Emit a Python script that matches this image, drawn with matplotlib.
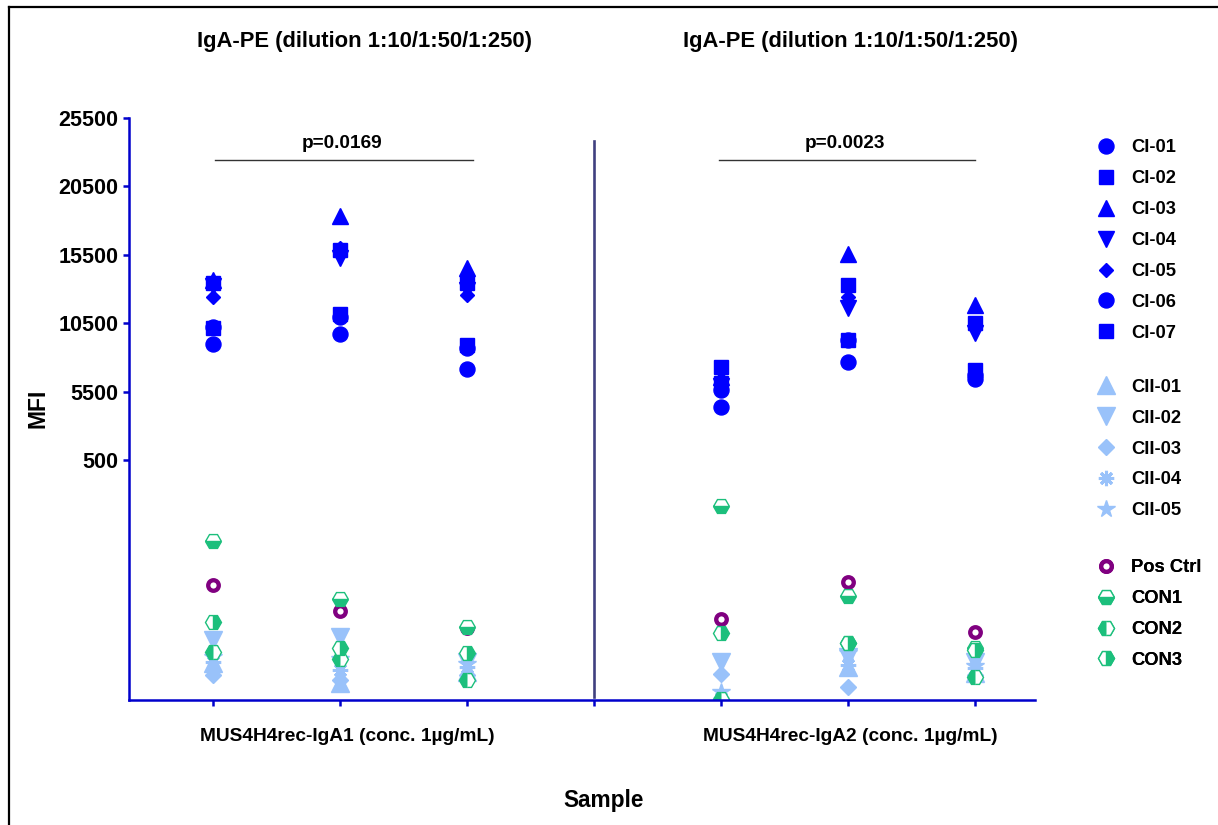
import numpy as np
import matplotlib
matplotlib.use("Agg")
import matplotlib.pyplot as plt
from matplotlib.lines import Line2D

plt.rcParams["font.family"] = ["Liberation Sans", "DejaVu Sans"]
plt.rcParams["font.weight"] = "bold"

# x positions: three dilutions per antibody, gap at 4 between the two antibodies
X_POS = [1, 2, 3, 5, 6, 7]
GROUP_LABELS = ["MUS4H4rec-IgA1 (conc. 1µg/mL)", "MUS4H4rec-IgA2 (conc. 1µg/mL)"]
GROUP_TITLES = ["IgA-PE (dilution 1:10/1:50/1:250)", "IgA-PE (dilution 1:10/1:50/1:250)"]
P_VALUES = ["p=0.0169", "p=0.0023"]
Y_TICKS = [500, 5500, 10500, 15500, 20500, 25500]

# MFI per sample, one value per column (IgA1 1:10, 1:50, 1:250, IgA2 1:10, 1:50, 1:250)
CI_01 = [8965, 9696, 7137, 4360, 7649, 6406]
CI_02 = [13424, 15836, 13424, 6100, 13278, 10500]
CI_03 = [13643, 18322, 14520, 6600, 15544, 11816]
CI_04 = [13205, 15251, 12912, 5900, 11596, 9769]
CI_05 = [12400, 15982, 12547, 6300, 12400, 10354]
CI_06 = [10208, 10939, 8673, 5600, 9257, 6700]
CI_07 = [10135, 11158, 8892, 7284, 9257, 7064]

CII_01 = [77, 35, 58, 0, 69, 56]
CII_02 = [125, 131, 80, 79, 90, 79]
CII_03 = [52, 42, 52, 54, 27, 52]
CII_04 = [79, 62, 69, 5, 72, 67]
CII_05 = [90, 85, 75, 17, 98, 70]

POS_CTRL = [240, 185, 150, 168, 246, 142]
CON1 = [331, 210, 152, 404, 217, 108]
CON2 = [100, 85, 42, 2, 119, 48]
CON3 = [162, 108, 98, 139, 119, 104]

BLUE = "#0000ff"
LIGHT = "#99c2fa"
PURPLE = "#800080"
GREEN = "#1cbf7c"
AXIS_BLUE = "#0000cc"

# segmented y axis: 0-500 on the lower 240 px, 500-25500 on the upper 342 px
LOW_H, HIGH_H, BREAK, TOP = 240.0, 342.0, 500.0, 25500.0


def fwd(v):
    v = np.asarray(v, dtype=float)
    return np.where(v < BREAK, v * LOW_H / BREAK,
                    LOW_H + (v - BREAK) * HIGH_H / (TOP - BREAK))


def inv(t):
    t = np.asarray(t, dtype=float)
    return np.where(t < LOW_H, t * BREAK / LOW_H,
                    BREAK + (t - LOW_H) * (TOP - BREAK) / HIGH_H)


series = [
    ("CI-01", CI_01, dict(marker="o", color=BLUE, ms=10.8)),
    ("CI-02", CI_02, dict(marker="s", color=BLUE, ms=10.5)),
    ("CI-03", CI_03, dict(marker="^", color=BLUE, ms=11.5)),
    ("CI-04", CI_04, dict(marker="v", color=BLUE, ms=11.5)),
    ("CI-05", CI_05, dict(marker="D", color=BLUE, ms=7.5)),
    ("CI-06", CI_06, dict(marker="o", color=BLUE, ms=10.8)),
    ("CI-07", CI_07, dict(marker="s", color=BLUE, ms=10.5)),
    ("CII-01", CII_01, dict(marker="^", color=LIGHT, ms=12.5)),
    ("CII-02", CII_02, dict(marker="v", color=LIGHT, ms=12.5)),
    ("CII-03", CII_03, dict(marker="D", color=LIGHT, ms=8.5)),
    ("CII-04", CII_04, dict(marker=(8, 2, 0), color=LIGHT, ms=11, mew=2.2)),
    ("CII-05", CII_05, dict(marker="*", color=LIGHT, ms=13)),
    ("Pos Ctrl", POS_CTRL, dict(marker="o", color=PURPLE, ms=7.6, mfc="white", mec=PURPLE, mew=3.1)),
    ("CON1", CON1, dict(marker="H", color=GREEN, ms=11.5, fillstyle="bottom", mfcalt="white", mec=GREEN, mew=1.0)),
    ("CON2", CON2, dict(marker="H", color=GREEN, ms=11.5, fillstyle="left", mfcalt="white", mec=GREEN, mew=1.0)),
    ("CON3", CON3, dict(marker="H", color=GREEN, ms=11.5, fillstyle="right", mfcalt="white", mec=GREEN, mew=1.0)),
]

W, H = 1218, 825
fig = plt.figure(figsize=(W / 100, H / 100), dpi=100)
ax = fig.add_axes([129 / W, 125 / H, (1035 - 129) / W, 582 / H])
ax.set_yscale("function", functions=(fwd, inv))
ax.set_ylim(0, TOP)
ax.set_xlim(0.34, 7.47)

handles = {}
for name, vals, st in series:
    st = dict(st)
    mfcalt = st.pop("mfcalt", None)
    (h,) = ax.plot(X_POS, vals, linestyle="none", label=name,
                   markerfacecoloralt=mfcalt if mfcalt else "none", **st)
    handles[name] = h

for s in ("top", "right"):
    ax.spines[s].set_visible(False)
for s in ("left", "bottom"):
    ax.spines[s].set_color(AXIS_BLUE)
    ax.spines[s].set_linewidth(1.8)

ax.set_yticks(Y_TICKS)
ax.set_yticklabels([str(t) for t in Y_TICKS])
ax.yaxis.set_minor_locator(matplotlib.ticker.NullLocator())
ax.tick_params(axis="y", direction="out", length=4.5, width=1.8, color=AXIS_BLUE,
               labelsize=15.5, pad=3)
ax.set_xticks([1, 2, 3, 4, 5, 6, 7])
ax.set_xticklabels([])
ax.tick_params(axis="x", direction="out", length=4, width=1.8, color=AXIS_BLUE)
for lab in ax.get_yticklabels():
    lab.set_fontweight("bold")

# divider between the two antibodies
ax.plot([4, 4], [6, 23800], color="#404080", lw=1.9, zorder=1)

xt = ax.get_xaxis_transform()
for cx, lab in zip([2.06, 6.02], GROUP_LABELS):
    ax.text(cx, -0.062, lab, transform=xt, ha="center", va="center",
            fontsize=13.8, fontweight="bold")
for cx, t in zip([2.19, 6.02], GROUP_TITLES):
    ax.text(cx, 1.131, t, transform=xt, ha="center", va="center",
            fontsize=15.8, fontweight="bold", clip_on=False)

# significance brackets
for (x0, x1), p in zip([(1.02, 3.05), (4.98, 7.0)], P_VALUES):
    ax.plot([x0, x1], [22430, 22430], color="#333333", lw=1.0)
    ax.text((x0 + x1) / 2 - 0.02, 23050, p, ha="center", va="bottom",
            fontsize=13.7, fontweight="bold")

fig.text(38 / W, 1 - 408 / H, "MFI", rotation=90, ha="center", va="center",
         fontsize=16.5, fontweight="bold")
fig.text(604 / W, 1 - 800 / H, "Sample", ha="center", va="center",
         fontsize=16.3, fontweight="bold")

# outer frame (left and top edges)
fig.add_artist(Line2D([9 / W, 9 / W], [-0.1, 1 - 7 / H], color="black", lw=1.6,
                      transform=fig.transFigure))
fig.add_artist(Line2D([9 / W, 1.1], [1 - 7 / H, 1 - 7 / H], color="black", lw=1.6,
                      transform=fig.transFigure))

legend_groups = [
    (["CI-01", "CI-02", "CI-03", "CI-04", "CI-05", "CI-06", "CI-07"], (148 + 333) / 2),
    (["CII-01", "CII-02", "CII-03", "CII-04", "CII-05"], (387 + 511) / 2),
    (["Pos Ctrl", "CON1", "CON2", "CON3"], (568 + 660) / 2),
]
for names, yc in legend_groups:
    leg = ax.legend([handles[n] for n in names], names, loc="center left",
                    bbox_to_anchor=(1097 / W, 1 - yc / H), bbox_transform=fig.transFigure,
                    frameon=False, borderpad=0, borderaxespad=0, handlelength=1.0,
                    handletextpad=0.86, labelspacing=0.76, numpoints=1,
                    prop=dict(size=13.2, weight="bold"))
    ax.add_artist(leg)

fig.savefig("out.png", dpi=100)
